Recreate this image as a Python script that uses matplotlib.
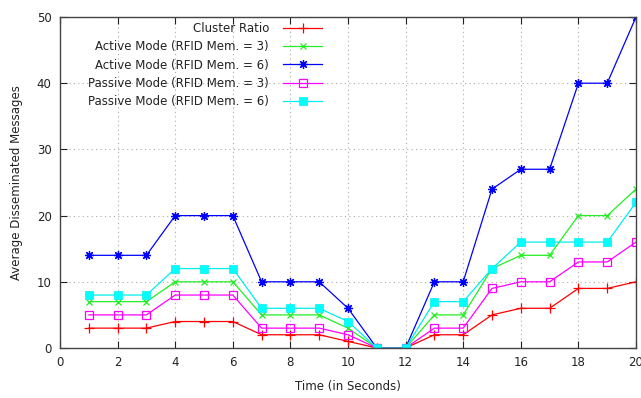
import matplotlib
matplotlib.use("Agg")
import matplotlib.pyplot as plt

time = list(range(1, 21))
cluster_ratio = [3, 3, 3, 4, 4, 4, 2, 2, 2, 1, 0, 0, 2, 2, 5, 6, 6, 9, 9, 10]
active_3 = [7, 7, 7, 10, 10, 10, 5, 5, 5, 3, 0, 0, 5, 5, 12, 14, 14, 20, 20, 24]
active_6 = [14, 14, 14, 20, 20, 20, 10, 10, 10, 6, 0, 0, 10, 10, 24, 27, 27, 40, 40, 50]
passive_3 = [5, 5, 5, 8, 8, 8, 3, 3, 3, 2, 0, 0, 3, 3, 9, 10, 10, 13, 13, 16]
passive_6 = [8, 8, 8, 12, 12, 12, 6, 6, 6, 4, 0, 0, 7, 7, 12, 16, 16, 16, 16, 22]

labels = ["Cluster Ratio", "Active Mode (RFID Mem. = 3)", "Active Mode (RFID Mem. = 6)",
          "Passive Mode (RFID Mem. = 3)", "Passive Mode (RFID Mem. = 6)"]
xticks = [0, 2, 4, 6, 8, 10, 12, 14, 16, 18, 20]
yticks = [0, 10, 20, 30, 40, 50]

plt.rcParams['font.family'] = ['DejaVu Sans']
fig = plt.figure(figsize=(6.41, 3.98), dpi=100)
ax = fig.add_axes([60/641, 50/398, 576/641, 331/398])

ax.plot(time, cluster_ratio, color='#ff0000', marker='+', ms=7, mew=0.9, lw=0.9, label=labels[0])
ax.plot(time, active_3, color='#22ee22', marker='x', ms=5, mew=0.9, lw=0.9, label=labels[1])
ax.plot(time, active_6, color='#0000ff', marker=(8, 2, 0), ms=6.5, mew=0.9, lw=0.9, label=labels[2])
ax.plot(time, passive_3, color='#ff00ff', marker='s', ms=5.5, mfc='none', mew=0.9, lw=0.9, label=labels[3])
ax.plot(time, passive_6, color='#00eeee', marker='s', ms=5.5, mfc='#00ffff', mew=0.5, lw=0.9, label=labels[4])

ax.set_xlim(0, 20)
ax.set_ylim(0, 50)
ax.set_xticks(xticks)
ax.set_yticks(yticks)
ax.grid(True, color='#aaaaaa', linestyle=(0, (1, 3)), linewidth=0.8)
ax.tick_params(direction='in', length=5, top=True, right=True, labelsize=8.5,
               labelcolor='#222222', color='#222222', pad=6)
for s in ax.spines.values():
    s.set_color('#444444')
    s.set_linewidth(1)

ax.set_xlabel('Time (in Seconds)', fontsize=8.5, color='#222222', labelpad=8)
ax.set_ylabel('Average Disseminated Messages', fontsize=8.5, color='#222222', labelpad=10)

leg = ax.legend(loc='upper right', bbox_to_anchor=(0.455, 0.985), frameon=False,
                markerfirst=False, fontsize=8.5, handlelength=3.3, labelspacing=0.45,
                borderaxespad=0, borderpad=0, handletextpad=1.2)
for t in leg.get_texts():
    t.set_color('#222222')

fig.savefig('out.png', dpi=100)
